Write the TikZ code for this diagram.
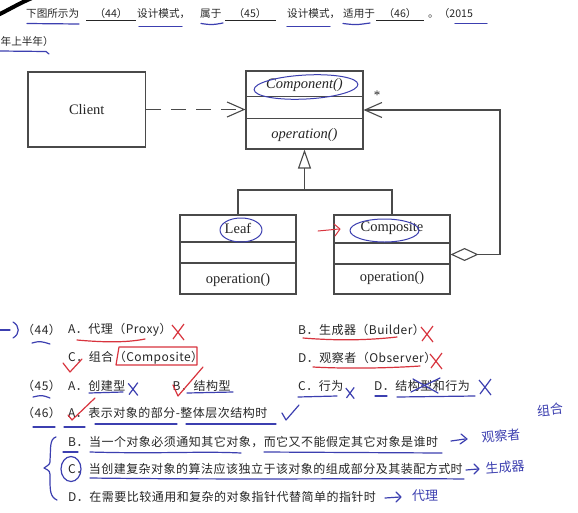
\documentclass[tikz,border=0pt]{standalone}
\usepackage{fontspec}
\setmainfont{Liberation Serif}
\newfontfamily\cjk[LetterSpace=4]{Noto Sans CJK SC}
\newfontfamily\cjkstem{Noto Sans CJK SC}
\usetikzlibrary{arrows.meta}
\definecolor{ink}{HTML}{262626}
\definecolor{umlline}{HTML}{4A4A4A}
\definecolor{pen}{HTML}{3C3FB0}
\definecolor{redpen}{HTML}{D8343E}
\begin{document}
\begin{tikzpicture}[x=1pt,y=-1pt,
  umlbox/.style={draw=umlline, line width=1.1pt, inner sep=0pt, fill=white},
  umltxt/.style={text=ink, inner sep=0pt, font=\fontsize{14.5}{17}\selectfont},
  umlital/.style={umltxt, font=\itshape\fontsize{14.5}{17}\selectfont},
  umlconn/.style={draw=umlline, line width=1.1pt},
  stem/.style={text=ink, inner sep=0pt, anchor=west, font=\cjkstem\fontsize{10.6}{12}\selectfont},
  opt/.style={text=ink, inner sep=0pt, anchor=west, font=\cjk\fontsize{12}{14}\selectfont},
  blank/.style={draw=ink, line width=0.8pt},
  bluemark/.style={draw=pen, line width=1.2pt, line cap=round, line join=round},
  redmark/.style={draw=redpen, line width=1.2pt, line cap=round, line join=round},
  hand/.style={text=pen, inner sep=0pt, font=\cjkstem\fontsize{13}{14}\selectfont},
  xmark/.pic={\draw (-6,-7) .. controls (-1,-1) .. (6,8); \draw (6,-8) .. controls (1,0) .. (-5,7);},
]
\useasboundingbox[fill=white] (0,0) rectangle (578,512);

% ---------- question stem ----------
\node[stem] (s1) at (26,13.5) {下图所示为};
\node[stem, anchor=center] (b44) at (111,13.5) {（44）};
\draw[blank] (86,20) -- (136,20);
\node[stem] (s2) at (137,13.5) {设计模式，};
\node[stem] (s3) at (200,13.5) {属于};
\node[stem, anchor=center] (b45) at (250,13.5) {（45）};
\draw[blank] (225,20) -- (276,20);
\node[stem] (s4) at (287,13.5) {设计模式，};
\node[stem] (s5) at (343,13.5) {适用于};
\node[stem, anchor=center] (b46) at (400,13.5) {（46）};
\draw[blank] (376,20) -- (424,20);
\node[stem] (s6) at (428,13.5) {。（2015};
\node[stem] (s7) at (0.5,41.5) {年上半年）};

% ---------- UML diagram ----------
\node[umlbox, minimum width=117.5pt, minimum height=75pt] (client) at (86.75,109.5) {};
\node[umltxt] (clienttxt) at (client.center) {Client};

\node[umlbox, minimum width=117pt, minimum height=78pt] (comp) at (304.5,110) {};
\draw[umlconn] (comp.west |- 0,96.7) -- (comp.east |- 0,96.7);
\draw[umlconn] (comp.west |- 0,118.3) -- (comp.east |- 0,118.3);
\node[umlital] (comptxt) at (304.5,85) {Component()};
\node[umlital] (compop) at (304.5,135.5) {operation()};

\node[umlbox, minimum width=116pt, minimum height=79pt] (leaf) at (238,254.5) {};
\draw[umlconn] (leaf.west |- 0,242) -- (leaf.east |- 0,242);
\draw[umlconn] (leaf.west |- 0,263) -- (leaf.east |- 0,263);
\node[umltxt] (leaftxt) at (238,228.5) {Leaf};
\node[umltxt] (leafop) at (238,280) {operation()};

\node[umlbox, minimum width=116pt, minimum height=79pt] (compo) at (392,254.5) {};
\draw[umlconn] (compo.west |- 0,243) -- (compo.east |- 0,243);
\draw[umlconn] (compo.west |- 0,264) -- (compo.east |- 0,264);
\node[umltxt] (compotxt) at (392,228.5) {Composite};
\node[umltxt] (compoop) at (392,278) {operation()};

% dependency
\draw[umlconn, dash pattern=on 15pt off 10pt, -{Straight Barb[length=17pt,width=15pt]}]
  (client.east) -- (client.east -| comp.west);
% generalization
\coordinate (junc) at (304.5,190);
\draw[umlconn, -{Triangle[open,length=19pt,width=13pt]}] (junc) -- (comp.south);
\draw[umlconn] (leaf.north) |- (junc) -| (compo.north);
% aggregation loop
\coordinate (loopc) at (500,110);
\draw[umlconn, {Diamond[open,length=28pt,width=13pt]}-{Straight Barb[length=17pt,width=15pt]}]
  (compo.east) -| (loopc) -- (comp.east);
\node[text=ink, inner sep=0pt, font=\fontsize{13}{13}\selectfont] (mult) at (377,95) {*};

% ---------- options ----------
\node[opt] (q44) at (22,330) {（44）};
\node[opt] (a44) at (68,330) {A．代理（Proxy）};
\node[opt] (b44o) at (298,330) {B．生成器（Builder）};
\node[opt] (c44) at (68,358) {C．组合（Composite）};
\node[opt] (d44) at (298,358) {D．观察者（Observer）};
\node[opt] (q45) at (22,386) {（45）};
\node[opt] (a45) at (68,386) {A．创建型};
\node[opt] (b45o) at (172.5,386) {B．结构型};
\node[opt] (c45) at (298,386) {C．行为};
\node[opt] (d45) at (374,386) {D．结构型和行为};
\node[opt] (q46) at (22,413) {（46）};
\node[opt] (a46) at (68,413) {A．表示对象的部分-整体层次结构时};
\node[opt] (b46o) at (68,442) {B．当一个对象必须通知其它对象，而它又不能假定其它对象是谁时};
\node[opt] (c46) at (68,469) {C．当创建复杂对象的算法应该独立于该对象的组成部分及其装配方式时};
\node[opt] (d46) at (68,497) {D．在需要比较通用和复杂的对象指针代替简单的指针时};

% ---------- handwritten annotations ----------
\draw[line width=4pt, line cap=round] (-2,15) .. controls (10,9) and (20,3) .. (32,-2);
% stem underlines
\draw[bluemark] (27,23.5) -- (79,24);
\draw[bluemark] (139,26.5) -- (182,26.5);
\draw[bluemark] (201,23.5) .. controls (212,25) .. (223,23);
\draw[bluemark] (287,26.5) -- (330,26.5);
\draw[bluemark] (343,23.5) .. controls (356,25) .. (370,23);
\draw[bluemark] (455,23.5) -- (487,23.5);
\draw[bluemark] (0,51) -- (46,51.5) -- (49,54);
% UML ellipses
\draw[bluemark, line width=1pt, rotate around={3:(306,87)}] (306,87) ellipse [x radius=52, y radius=12];
\draw[bluemark, line width=1pt] (241,230) ellipse [x radius=21, y radius=12];
\draw[bluemark, line width=1pt] (384.5,230.5) ellipse [x radius=34.5, y radius=11.5];
\draw[redmark, line width=1pt] (318,231) -- (339,229);
\draw[redmark, line width=1pt] (334,224) -- (340,229) -- (335,236);
% (44)
\draw[bluemark] (0,330) -- (10,330);
\draw[bluemark] (13,322) .. controls (20,326) and (20,334) .. (13,338);
\draw[bluemark] (32,343) .. controls (40,341) .. (50,344);
\draw[redmark] (77,340) .. controls (110,343) and (130,342) .. (145,339);
\pic[redpen, line width=1.2pt] at (178,332) {xmark};
\draw[redmark] (303,338) .. controls (340,341) and (370,340) .. (397,337);
\pic[redpen, line width=1.2pt] at (427,334) {xmark};
\draw[redmark] (63,363) -- (70,372) -- (82,359);
\draw[redmark] (119,347) -- (197,347) -- (197,365) -- (116,365) -- cycle;
\draw[redmark] (313,367) .. controls (350,369) and (390,368) .. (420,366);
\pic[redpen, line width=1.2pt] at (436,361) {xmark};
% (45)
\draw[bluemark] (33,397) .. controls (42,395) .. (50,398);
\draw[bluemark] (89,393) -- (123,392);
\pic[pen, line width=1.2pt, scale=0.8] at (133,389) {xmark};
\draw[redmark] (173,385) -- (178,396) -- (203,367);
\draw[bluemark] (187,393) -- (233,392);
\draw[bluemark] (298,397) -- (337,396);
\pic[pen, line width=1.2pt, scale=0.7] at (350,393) {xmark};
\draw[bluemark] (375,396) -- (387,396);
\draw[bluemark] (397,397) -- (475,396);
\draw[bluemark] (411,392) -- (440,378);
\draw[bluemark] (413,379) -- (438,393);
\pic[pen, line width=1.2pt] at (485,387) {xmark};
% (46)
\draw[bluemark] (33,427) -- (55,427);
\draw[bluemark] (64,427) -- (85,427);
\draw[redmark] (68,415) -- (72,420) -- (95,398);
\draw[bluemark] (95,424) -- (177,424);
\draw[bluemark] (186,424) -- (276,424);
\draw[bluemark] (282,413) -- (286,420) -- (299,405);
\draw[bluemark] (56,437) .. controls (49,439) and (51,450) .. (50,460)
  .. controls (50,464) .. (44,468) .. controls (50,471) .. (50,478)
  .. controls (50,490) and (50,497) .. (57,500);
\draw[bluemark] (63,452) -- (78,452);
\draw[bluemark] (71,469) ellipse [x radius=10, y radius=12.5];
\draw[bluemark] (90,452) .. controls (160,454) and (200,451) .. (241,453);
\draw[bluemark] (264,452) -- (442,453);
\draw[bluemark] (90,478) .. controls (250,480) and (380,478) .. (464,479);
\draw[bluemark] (451,441) -- (465,439);
\draw[bluemark] (461,434) -- (467,439) -- (460,444);
\draw[bluemark] (466,470) -- (478,469);
\draw[bluemark] (474,464) -- (479,469) -- (474,474);
\draw[bluemark] (385,498) -- (400,497);
\draw[bluemark] (396,492) -- (401,497) -- (396,502);
\node[hand, rotate=6] (hw1) at (501,436) {观察者};
\node[hand, rotate=4] (hw2) at (505,467) {生成器};
\node[hand] (hw3) at (425,496) {代理};
\node[hand, rotate=6] (hw4) at (550,410) {组合};
\end{tikzpicture}
\end{document}
